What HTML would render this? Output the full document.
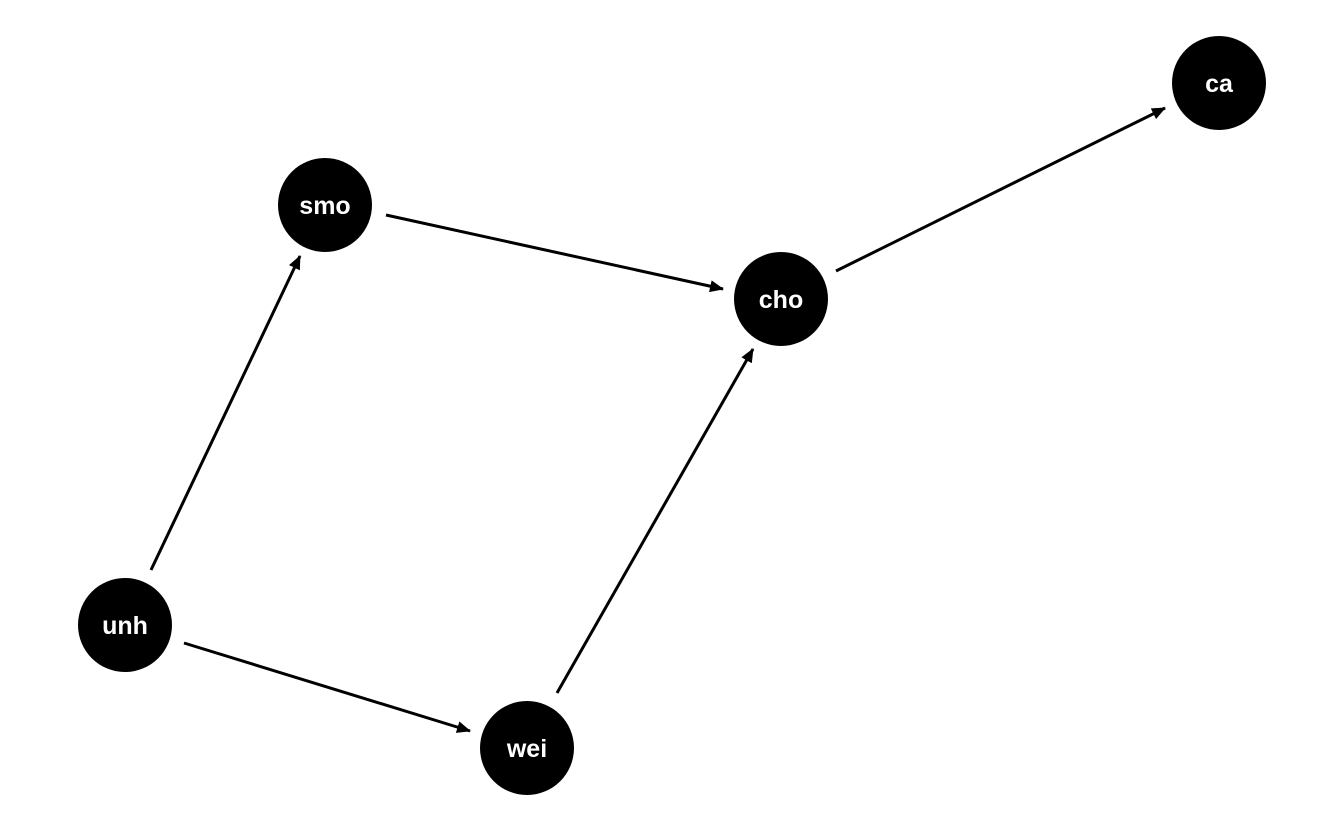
<!DOCTYPE html>
<html><head><style>html,body{margin:0;padding:0;background:#fff}</style></head>
<body>
<svg width="1344" height="830" xmlns="http://www.w3.org/2000/svg">
<defs><marker id="a" markerWidth="10" markerHeight="8" refX="9" refY="4" orient="auto" markerUnits="userSpaceOnUse" viewBox="0 0 10 8"><path d="M0,0 L10,4 L0,8 z" fill="#000" transform="scale(1.4)"/></marker>
<marker id="b" markerWidth="14" markerHeight="12" refX="13" refY="6" orient="auto" markerUnits="userSpaceOnUse"><path d="M0,0 L14,6 L0,12 z" fill="#000"/></marker></defs>
<g stroke="#000" stroke-width="3" fill="none" marker-end="url(#b)">
<line x1="151" y1="570" x2="300" y2="256"/>
<line x1="386" y1="215" x2="723" y2="289"/>
<line x1="836" y1="271" x2="1165" y2="108"/>
<line x1="184" y1="643" x2="470" y2="731"/>
<line x1="557" y1="693" x2="753" y2="349"/>
</g>
<g fill="#000">
<circle cx="1219" cy="83" r="47"/><circle cx="325" cy="205" r="47"/><circle cx="781" cy="299" r="47"/><circle cx="125" cy="625" r="47"/><circle cx="527" cy="748" r="47"/>
</g>
<g fill="#fff" font-family="Liberation Sans, sans-serif" font-weight="bold" font-size="25" text-anchor="middle">
<text x="1219" y="92">ca</text><text x="325" y="214">smo</text><text x="781" y="308">cho</text><text x="125" y="634">unh</text><text x="527" y="757">wei</text>
</g>
</svg>
</body></html>
